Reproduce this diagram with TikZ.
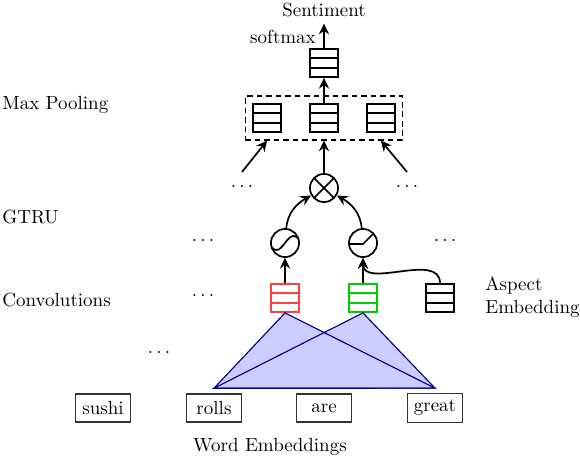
\documentclass[tikz,border=0pt]{standalone}
\usepackage{tikz}
\usetikzlibrary{arrows.meta,positioning,fit}

\begin{document}
\begin{tikzpicture}[x=0.0185cm,y=-0.0185cm,
  vec/.style={draw=#1,line width=0.9pt,minimum width=0.52cm,minimum height=0.52cm,inner sep=0pt,
    path picture={\foreach \k in {-1,1}{\draw[#1,line width=0.9pt,shift={(path picture bounding box.center)}] (-20,\k*4.7) -- (20,\k*4.7);}}},
  vec/.default=black,
  gate/.style={draw,circle,line width=0.9pt,minimum size=0.52cm,inner sep=0pt},
  word/.style={draw=black!80,line width=0.6pt,minimum width=1.02cm,minimum height=0.52cm,outer sep=3pt},
  layer/.style={anchor=west,inner sep=0pt},
  arrow/.style={-{Stealth[length=2mm,width=1.9mm,inset=0.7mm]},line width=0.9pt},
  tri/.style={draw=blue!55!black,line width=0.6pt},
  node distance=0.5cm]
  \useasboundingbox (0,0) rectangle (580,458);
  \node (sent) at (324,10) {Sentiment};
  \node (smax) at (283,37) {softmax};
  \node[vec] (top) at (324,63) {};
  \node[vec] (p2) at (324,118) {};
  \node[vec,left=of p2] (p1) {};
  \node[vec,right=of p2] (p3) {};
  \node[draw,dash pattern=on 3pt off 2pt,line width=0.6pt,fit=(p1)(p3),inner sep=3.7pt] (pool) {};
  \node[gate,path picture={\draw[line width=0.9pt] (path picture bounding box.north west) -- (path picture bounding box.south east) (path picture bounding box.north east) -- (path picture bounding box.south west);}] (ox) at (324,188) {};
  \node[gate,path picture={\draw[line width=0.9pt,shift={(path picture bounding box.center)}] (-17,0) sin (-8.5,7) cos (0,0) sin (8.5,-7) cos (17,0);}] (sig) at (285,243) {};
  \node[gate,path picture={\draw[line width=0.9pt,shift={(path picture bounding box.center)}] (-16,1) -- (0,1) -- (15,-14);}] (relu) at (363,243) {};
  \node[vec=red!75] (cr) at (285,298) {};
  \node[vec=green!80!black] (cg) at (363,298) {};
  \node[vec] (asp) at (440,298) {};
  \node[word] (sushi) at (103,408) {sushi};
  \node[word] (rolls) at (214,408) {rolls};
  \node[word] (are) at (324,408) {are};
  \node[word] (great) at (435,408) {great};
  \node (we) at (270,447) {Word Embeddings};
  \node[layer] (lmax) at (2,105) {Max Pooling};
  \node[layer] (lgtru) at (2,217) {GTRU};
  \node[layer] (lconv) at (2,300) {Convolutions};
  \node[layer,align=left] (lasp) at (485,297) {Aspect\\Embedding};
  \node (d1) at (242,186) {$\ldots$};
  \node (d2) at (407,186) {$\ldots$};
  \node (d3) at (203,241) {$\ldots$};
  \node (d4) at (445,241) {$\ldots$};
  \node (d5) at (203,296) {$\ldots$};
  \node (d6) at (159,353) {$\ldots$};
  \coordinate (inL) at (242,172);
  \coordinate (inR) at (407,172);
  \fill[blue!20] (cr.south) -- (rolls.north) -- (great.north) -- cycle;
  \fill[blue!20] (cg.south) -- (rolls.north) -- (great.north) -- cycle;
  \draw[tri] (cr.south) -- (rolls.north) -- (great.north) -- cycle;
  \draw[tri] (cg.south) -- (rolls.north) -- (great.north) -- cycle;
  \draw[arrow] (top) -- (sent);
  \draw[arrow] (p2) -- (top);
  \draw[arrow] (ox) -- (pool);
  \draw[arrow] (inL) -- (pool.south -| p1);
  \draw[arrow] (inR) -- (pool.south -| p3);
  \draw[arrow] (sig) to[out=85,in=210] (ox);
  \draw[arrow] (relu) to[out=95,in=-30] (ox);
  \draw[arrow] (cr) -- (sig);
  \draw[arrow] (cg) -- (relu);
  \draw[arrow] (asp) to[out=90,in=-90] (relu);
\end{tikzpicture}
\end{document}
